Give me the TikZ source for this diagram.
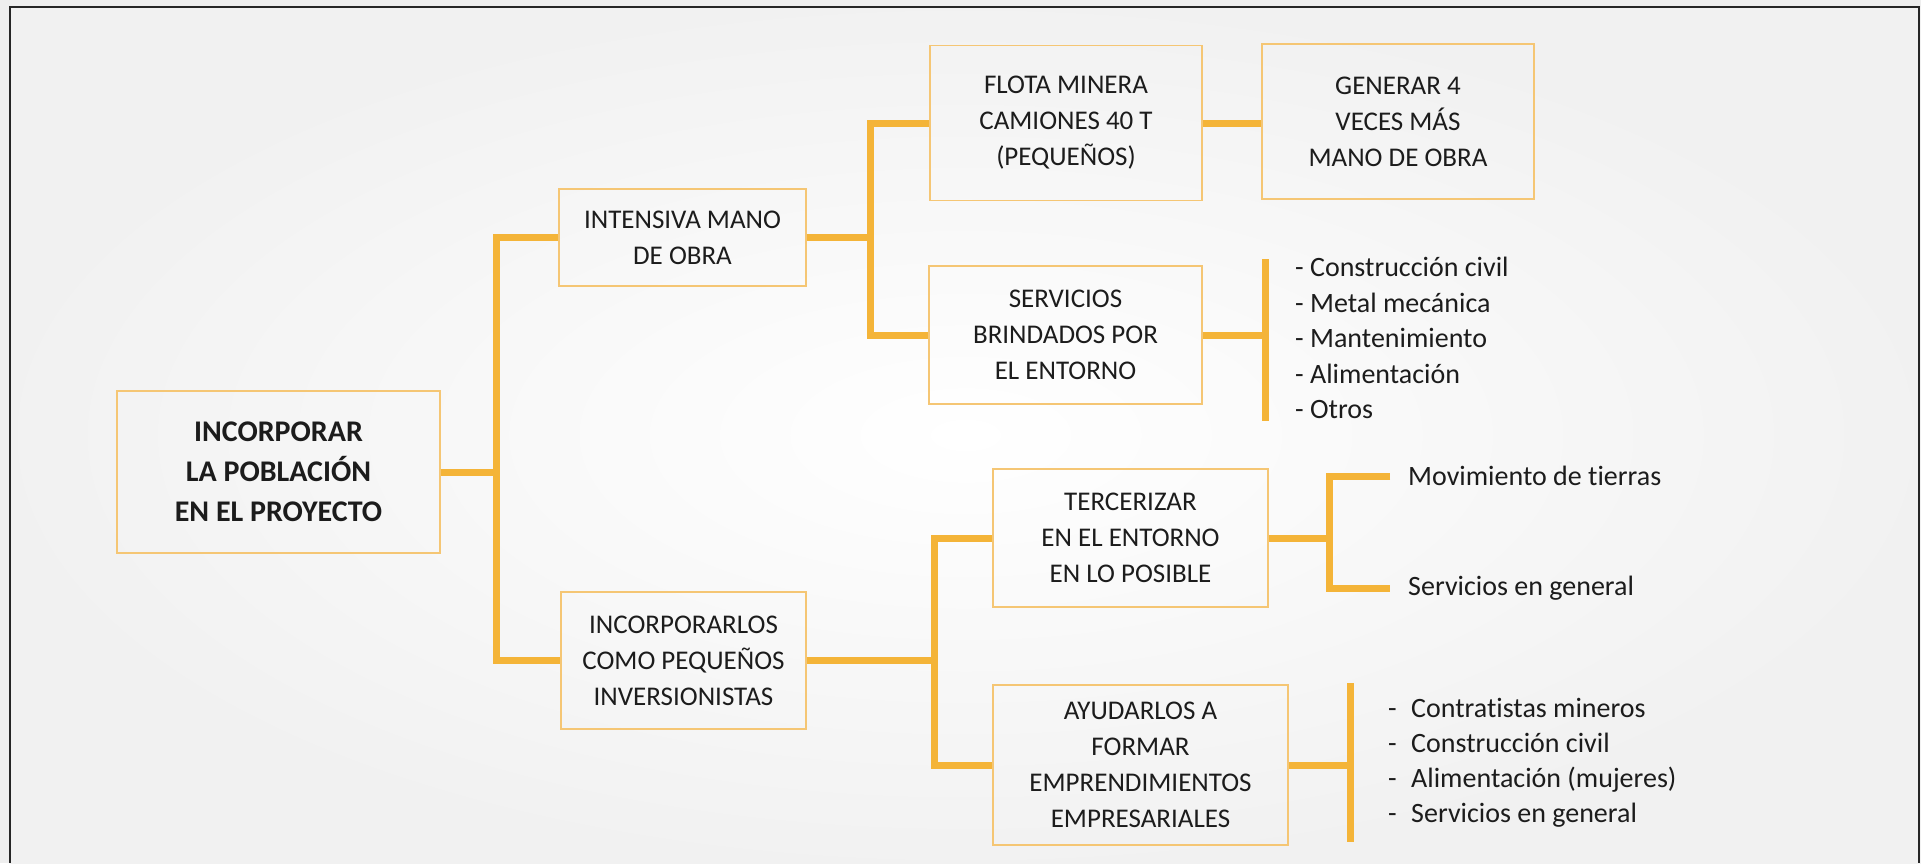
\documentclass[tikz,border=0pt]{standalone}
\usepackage{fontspec}
\setmainfont{Carlito}[Ligatures=NoCommon]
\definecolor{conncol}{RGB}{244,180,56}
\definecolor{boxcol}{RGB}{245,198,116}
\definecolor{txtcol}{RGB}{28,28,28}
\definecolor{bgedge}{RGB}{238,238,238}
\begin{document}
\begin{tikzpicture}[x=1pt,y=-1pt,
  mybox/.style={draw=boxcol, line width=1.8pt, align=center, text=txtcol, inner sep=0pt,
    font=\fontsize{27}{36}\selectfont},
  conn/.style={draw=conncol, line width=7pt, line join=miter},
  lst/.style={align=left, text=txtcol, inner sep=0pt, font=\fontsize{28}{35.5}\selectfont}]
\useasboundingbox (0,0) rectangle (1921,863);
\fill[bgedge] (0,0) rectangle (1921,863);
\shade[inner color=white, outer color=bgedge!80!white] (10,7) rectangle (1921,863);
\draw[line width=2pt, black!85] (10,863) -- (10,7) -- (1919,7) -- (1919,863);

% boxes
\node[mybox, minimum width=323pt, minimum height=162pt, font=\fontsize{30}{40}\selectfont\bfseries] (root) at (278.5,472) {INCORPORAR\\LA POBLACIÓN\\EN EL PROYECTO};
\node[mybox, minimum width=247pt, minimum height=97pt] (intens) at (682.5,237.5) {INTENSIVA MANO\\DE OBRA};
\node[mybox, minimum width=245pt, minimum height=137pt] (incorp) at (683.5,660.5) {INCORPORARLOS\\COMO PEQUEÑOS\\INVERSIONISTAS};
\node[mybox, minimum width=272pt, minimum height=155pt] (flota) at (1066,123) {FLOTA MINERA\\CAMIONES 40 T\\(PEQUEÑOS)};
\node[mybox, minimum width=272pt, minimum height=155pt] (generar) at (1398,121.5) {GENERAR 4\\VECES MÁS\\MANO DE OBRA};
\node[mybox, minimum width=273pt, minimum height=138pt] (serv) at (1065.5,335) {SERVICIOS\\BRINDADOS POR\\EL ENTORNO};
\node[mybox, minimum width=275pt, minimum height=138pt] (terc) at (1130.5,538) {TERCERIZAR\\EN EL ENTORNO\\EN LO POSIBLE};
\node[mybox, minimum width=295pt, minimum height=160pt] (ayud) at (1140.5,765) {AYUDARLOS A\\FORMAR\\EMPRENDIMIENTOS\\EMPRESARIALES};

% lists
\node[lst, anchor=west] (list1) at (1295,338) {- Construcción civil\\- Metal mecánica\\- Mantenimiento\\- Alimentación\\- Otros};
\node[lst, anchor=west] (mov) at (1408,476) {Movimiento de tierras};
\node[lst, anchor=west] (sgen) at (1408,588) {Servicios en general};
\node[lst, anchor=west, font=\fontsize{28}{35}\selectfont] (list2) at (1388,762.5) {\makebox[23pt][l]{-}Contratistas mineros\\\makebox[23pt][l]{-}Construcción civil\\\makebox[23pt][l]{-}Alimentación (mujeres)\\\makebox[23pt][l]{-}Servicios en general};

% junction coordinates
\coordinate (t1) at (496,472);
\coordinate (t2) at (870,237.5);
\coordinate (t3) at (934,660.5);
\coordinate (f) at (1329,538);
\coordinate (m1) at (1390,476);
\coordinate (m2) at (1390,588);
\coordinate (b1a) at (1265,259);
\coordinate (b1b) at (1265,421);
\coordinate (b2a) at (1350,683);
\coordinate (b2b) at (1350,842);

% connectors
\draw[conn] (intens.west) -| (t1) |- (incorp.west);
\draw[conn] (root.east) -- (t1);
\draw[conn] (flota.west) -| (t2) |- (serv.west);
\draw[conn] (intens.east) -- (t2);
\draw[conn] (flota.east) -- (flota.east -| generar.west);
\draw[conn] (terc.west) -| (t3) |- (ayud.west);
\draw[conn] (incorp.east) -- (t3);
\draw[conn] (m1) -| (f) |- (m2);
\draw[conn] (terc.east) -- (f);
\draw[conn] (b1a) -- (b1b);
\draw[conn] (serv.east) -- (serv.east -| b1a);
\draw[conn] (b2a) -- (b2b);
\draw[conn] (ayud.east) -- (ayud.east -| b2a);
\end{tikzpicture}
\end{document}
